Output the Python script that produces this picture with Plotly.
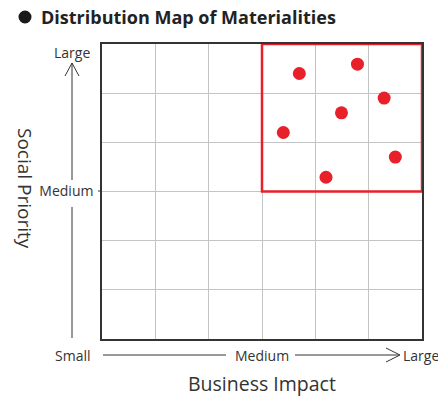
import plotly.graph_objects as go

# Materiality items: business impact (x) vs social priority (y), scale 0-6
impact = [3.70, 4.79, 5.29, 4.49, 3.40, 5.50, 4.20]
priority = [5.40, 5.59, 4.90, 4.60, 4.20, 3.70, 3.29]

x_labels = ["Small", "Medium", "Large"]
y_labels = ["Medium", "Large"]

RED = "#e8202a"
INK = "#333333"
FONT = "Open Sans"

# plot area in pixels (for placing paper-referenced decorations)
L, R, T, B = 102, 422, 44, 339
W, H = 438, 396


def px(x):
    return (x - L) / (R - L)


def py(y):
    return (B - y) / (B - T)


fig = go.Figure()
fig.add_trace(go.Scatter(
    x=impact, y=priority, mode="markers",
    marker=dict(color=RED, size=13, line=dict(width=0)),
    hoverinfo="x+y", showlegend=False,
))

shapes = [
    # highlighted high-materiality region
    dict(type="rect", xref="x", yref="y", x0=3, x1=6, y0=3, y1=6,
         line=dict(color=RED, width=2.5), layer="above"),
    # title bullet
    dict(type="circle", xref="paper", yref="paper",
         x0=px(18.5), x1=px(31.5), y0=py(23.5), y1=py(10.5),
         fillcolor="#1a1a1a", line=dict(width=0)),
    # tick beside the "Medium" label
    dict(type="line", xref="paper", yref="paper", x0=px(98), x1=px(102),
         y0=py(191), y1=py(191), line=dict(color=INK, width=1)),
]

line_style = dict(color=INK, width=1)
# vertical arrow (social priority)
shapes += [
    dict(type="line", xref="paper", yref="paper", x0=px(72), x1=px(72),
         y0=py(338), y1=py(207), line=line_style),
    dict(type="line", xref="paper", yref="paper", x0=px(72), x1=px(72),
         y0=py(180), y1=py(63), line=line_style),
    dict(type="path", xref="paper", yref="paper",
         path=f"M {px(65)} {py(76)} L {px(72)} {py(63)} L {px(79)} {py(76)}",
         line=line_style),
]
# horizontal arrow (business impact)
shapes += [
    dict(type="line", xref="paper", yref="paper", x0=px(103), x1=px(226),
         y0=py(355), y1=py(355), line=line_style),
    dict(type="line", xref="paper", yref="paper", x0=px(295), x1=px(399),
         y0=py(355), y1=py(355), line=line_style),
    dict(type="path", xref="paper", yref="paper",
         path=f"M {px(386)} {py(348)} L {px(400)} {py(355)} L {px(386)} {py(362)}",
         line=line_style),
]

annotations = [
    dict(text=y_labels[1], x=px(72), y=py(52), xref="paper", yref="paper",
         showarrow=False, font=dict(size=14, color=INK), xanchor="center", yanchor="middle"),
    dict(text=x_labels[0], x=px(93), y=py(355), xref="paper", yref="paper",
         showarrow=False, font=dict(size=14, color=INK), xanchor="right", yanchor="middle"),
    dict(text=x_labels[1], x=px(262), y=py(355), xref="paper", yref="paper",
         showarrow=False, font=dict(size=14, color=INK), xanchor="center", yanchor="middle"),
    dict(text=x_labels[2], x=px(401), y=py(355), xref="paper", yref="paper",
         showarrow=False, font=dict(size=14, color=INK), xanchor="left", yanchor="middle"),
    dict(text="Business Impact", x=px(262), y=py(383), xref="paper", yref="paper",
         showarrow=False, font=dict(size=19.5, color=INK), xanchor="center", yanchor="middle"),
    dict(text="Social Priority", x=px(25), y=py(188), xref="paper", yref="paper",
         showarrow=False, textangle=90, font=dict(size=19, color=INK),
         xanchor="center", yanchor="middle"),
    dict(text="<b>Distribution Map of Materialities</b>", x=px(39), y=py(17),
         xref="paper", yref="paper", showarrow=False,
         font=dict(size=18, color="#222222"), xanchor="left", yanchor="middle"),
]

fig.update_layout(
    width=W, height=H,
    margin=dict(l=L, r=W - R, t=T, b=H - B, pad=0),
    paper_bgcolor="white", plot_bgcolor="white",
    font=dict(family=FONT, color=INK),
    shapes=shapes, annotations=annotations,
    xaxis=dict(range=[0, 6], dtick=1, tick0=0, showticklabels=False,
               showgrid=True, gridcolor="#c4c4c4", gridwidth=1, zeroline=False,
               showline=True, linecolor=INK, linewidth=1.5, mirror=True,
               ticks="", fixedrange=True),
    yaxis=dict(range=[0, 6], tickmode="array", tickvals=[0, 1, 2, 3, 4, 5, 6],
               ticktext=["", "", "", y_labels[0], "", "", ""],
               tickfont=dict(size=14, color=INK), ticklabelstandoff=4,
               showgrid=True, gridcolor="#c4c4c4", gridwidth=1, zeroline=False,
               showline=True, linecolor=INK, linewidth=1.5, mirror=True,
               ticks="", fixedrange=True),
)

fig.write_html("out.html")
